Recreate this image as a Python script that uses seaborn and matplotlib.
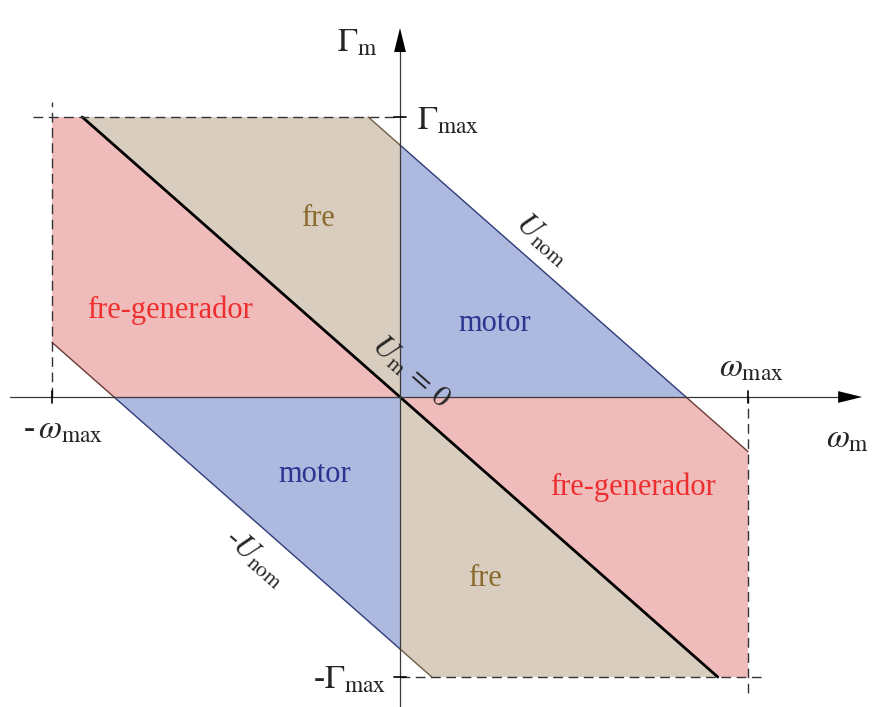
import matplotlib
matplotlib.use("Agg")
import matplotlib.pyplot as plt
import seaborn as sns
import numpy as np

# Operating limits (normalised)
omega_max = 1.0          # maximum speed
gamma_max = 1.0          # maximum torque
u_slope = 1.095          # torque drop per unit speed along a constant-voltage line
gamma_unom0 = 0.9        # stall torque on the nominal-voltage line

# Region labels: (text, omega, gamma, colour)
region_names = ["fre", "motor", "fre-generador", "motor", "fre", "fre-generador"]
region_omega = [-0.236, 0.273, -0.661, -0.244, 0.244, 0.670]
region_gamma = [0.639, 0.264, 0.311, -0.275, -0.650, -0.321]
region_colors = ["#8a6a2c", "#2b3590", "#ee2e2e", "#2b3590", "#8a6a2c", "#ee2e2e"]

sns.set_theme(style="white")
plt.rcParams["font.family"] = ["Liberation Serif", "DejaVu Serif"]
plt.rcParams["mathtext.fontset"] = "stix"

fig = plt.figure(figsize=(8.84, 7.07), dpi=100)
ax = fig.add_axes([0, 0, 1, 1])
ax.set_xlim(-400 / 348, 484 / 348)
ax.set_ylim(-310 / 280, 397 / 280)
ax.axis("off")

s = u_slope
g0 = gamma_unom0
w0 = g0 / s                      # no-load speed at nominal voltage
w_top = (g0 - gamma_max) / s     # nominal-voltage line meets the torque limit
w_um0 = gamma_max / s            # Um = 0 line meets the torque limit
g_edge = g0 - s * omega_max      # nominal-voltage line at max speed (negative)

TAN, BLUE, RED = "#d9cdbf", "#adb9df", "#f0bbbb"
TAN_E, BLUE_E, RED_E = "#6e5c44", "#2f3c78", "#6a3c34"

polys = [
    ([(-w_um0, gamma_max), (w_top, gamma_max), (0, g0), (0, 0)], TAN),
    ([(0, g0), (w0, 0), (0, 0)], BLUE),
    ([(-omega_max, gamma_max), (-w_um0, gamma_max), (0, 0), (-w0, 0),
      (-omega_max, -g_edge)], RED),
    ([(-w0, 0), (0, 0), (0, -g0)], BLUE),
    ([(0, 0), (0, -g0), (-w_top, -gamma_max), (w_um0, -gamma_max)], TAN),
    ([(0, 0), (w0, 0), (omega_max, g_edge), (omega_max, -gamma_max),
      (w_um0, -gamma_max)], RED),
]
for pts, col in polys:
    xs, ys = zip(*pts)
    ax.fill(xs, ys, color=col, lw=0, zorder=1)

def seg(x, y, color, lw, **kw):
    sns.lineplot(x=x, y=y, color=color, lw=lw, ax=ax, sort=False,
                 estimator=None, legend=False, zorder=3, **kw)

# Nominal-voltage boundaries
seg([w_top, 0], [gamma_max, g0], TAN_E, 1.0)
seg([0, w0], [g0, 0], BLUE_E, 1.0)
seg([w0, omega_max], [0, g_edge], RED_E, 1.0)
seg([-omega_max, -w0], [-g_edge, 0], RED_E, 1.0)
seg([-w0, 0], [0, -g0], BLUE_E, 1.0)
seg([0, -w_top], [-g0, -gamma_max], TAN_E, 1.0)

# Um = 0 line
seg([-w_um0, w_um0], [gamma_max, -gamma_max], "black", 2.0)

# Dashed limits
dash = dict(color="#333333", lw=1.0, dashes=(7, 4))
ax.plot([-1.055 * omega_max, 0], [gamma_max, gamma_max], zorder=4, **dash)
ax.plot([-omega_max, -omega_max], [0, 1.054 * gamma_max], zorder=4, **dash)
ax.plot([omega_max, omega_max], [-1.057 * gamma_max, 0], zorder=4, **dash)
ax.plot([0, 1.049 * omega_max], [-gamma_max, -gamma_max], zorder=4, **dash)

# Axes with arrowheads
ax_col = "#3a3a3a"
ax.plot([-1.121, 1.27], [0, 0], color=ax_col, lw=0.9, zorder=5)
ax.plot([0, 0], [-1.11, 1.24], color=ax_col, lw=0.9, zorder=5)
ax.fill([1.259, 1.328, 1.259], [0.021, 0, -0.021], color="black", lw=0, zorder=6)
ax.fill([-0.017, 0, 0.017], [1.232, 1.318, 1.232], color="black", lw=0, zorder=6)

# Limit ticks
for w in (-omega_max, omega_max):
    ax.plot([w, w], [-0.02, 0.02], color="black", lw=1.2, zorder=6)
for g in (-gamma_max, gamma_max):
    ax.plot([-0.017, 0.017], [g, g], color="black", lw=1.2, zorder=6)

fs = 22
# Region labels
for name, w, g, c in zip(region_names, region_omega, region_gamma, region_colors):
    ax.text(w, g, name, color=c, fontsize=fs, ha="center", va="center", zorder=7)

# Line labels
ang = -41.3
ax.text(0.41, 0.56, r"$U_{\mathrm{nom}}$", fontsize=fs, rotation=ang,
        ha="center", va="center", zorder=7)
ax.text(0.03, 0.086, r"$U_{\mathrm{m}}\,=\,\mathit{0}$", fontsize=fs, rotation=ang,
        ha="center", va="center", zorder=7)
ax.text(-0.417, -0.575, r"-$U_{\mathrm{nom}}$", fontsize=fs, rotation=ang,
        ha="center", va="center", zorder=7)

# Axis labels
ax.text(-0.123, 1.264, r"$\Gamma_{\mathrm{m}}$", fontsize=fs + 2, ha="center", va="center")
ax.text(0.05, 0.985, r"$\Gamma_{\mathrm{max}}$", fontsize=fs + 2, ha="left", va="center")
ax.text(-0.04, -1.01, r"-$\Gamma_{\mathrm{max}}$", fontsize=fs + 2, ha="right", va="center")
ax.text(1.01, 0.104, r"$\omega_{\mathrm{max}}$", fontsize=fs + 2, ha="center", va="center")
ax.text(-0.97, -0.118, r"-$\,\omega_{\mathrm{max}}$", fontsize=fs + 2, ha="center", va="center")
ax.text(1.287, -0.15, r"$\omega_{\mathrm{m}}$", fontsize=fs + 2, ha="center", va="center")

fig.savefig("out.png", dpi=100, facecolor="white")
